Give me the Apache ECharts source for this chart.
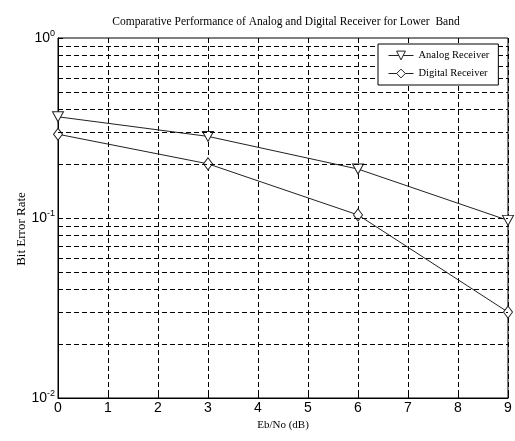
<!DOCTYPE html>
<html>
<head>
<meta charset="utf-8">
<script src="https://cdn.jsdelivr.net/npm/echarts@6/dist/echarts.min.js"></script>
<style>html,body{margin:0;padding:0;background:#fff;}#c{width:515px;height:441px;}</style>
</head>
<body>
<div id="c"></div>
<script>
var ebno = [0, 3, 6, 9];
var analog = [0.365, 0.284, 0.187, 0.097];
var digital = [0.292, 0.200, 0.104, 0.030];
var xTicks = [0, 1, 2, 3, 4, 5, 6, 7, 8, 9];
var yGridValues = [0.02, 0.03, 0.04, 0.05, 0.06, 0.07, 0.08, 0.09, 0.1, 0.2, 0.3, 0.4, 0.5, 0.6, 0.7, 0.8, 0.9];
var yMajor = {1: '0', 0.1: '-1', 0.01: '-2'};

var chart = echarts.init(document.getElementById('c'));
var serif = 'Liberation Serif';
var sans = 'Liberation Sans';
function pairs(xs, ys) { return xs.map(function (x, i) { return [x, ys[i]]; }); }
var markerStyle = { color: '#fff', borderColor: '#222', borderWidth: 1 };
var thinLine = { color: '#222', width: 1 };

chart.setOption({
  animation: false,
  backgroundColor: '#fff',
  title: {
    text: 'Comparative Performance of Analog and Digital Receiver for Lower  Band',
    left: 281, top: 11, textAlign: 'center',
    textStyle: { fontFamily: serif, fontSize: 11.5, fontWeight: 'normal', color: '#000' }
  },
  legend: {
    orient: 'vertical', left: 378, top: 44, z: 20,
    backgroundColor: '#fff', borderColor: '#000', borderWidth: 1,
    padding: [6, 9, 6, 10], itemGap: 7, itemWidth: 25, itemHeight: 11,
    textStyle: { fontFamily: serif, fontSize: 10.5, color: '#000' },
    lineStyle: thinLine,
    data: [
      { name: 'Analog Receiver', itemStyle: markerStyle, lineStyle: thinLine },
      { name: 'Digital Receiver', itemStyle: markerStyle, lineStyle: thinLine }
    ]
  },
  grid: { left: 58, right: 7, top: 38, bottom: 43, show: true, borderColor: '#000', borderWidth: 1, backgroundColor: 'transparent' },
  xAxis: {
    type: 'value', min: 0, max: 9, interval: 1,
    name: 'Eb/No (dB)', nameLocation: 'middle', nameGap: 22,
    nameTextStyle: { fontFamily: serif, fontSize: 11, color: '#000' },
    axisLine: { lineStyle: { color: '#000' } },
    axisTick: { inside: true, length: 5, lineStyle: { color: '#000' } },
    axisLabel: { fontFamily: sans, fontSize: 14, color: '#000', margin: 3,
      formatter: function (v) { return xTicks.indexOf(v) >= 0 ? String(v) : ''; } },
    splitLine: { show: true, lineStyle: { color: '#000', type: [5, 3], width: 1 } }
  },
  yAxis: {
    type: 'log', logBase: 10, min: 0.01, max: 1,
    name: 'Bit Error Rate', nameLocation: 'middle', nameGap: 30, nameRotate: 90,
    nameMoveOverlap: false,
    nameTextStyle: { fontFamily: serif, fontSize: 13, color: '#000', padding: [0, 22, 0, 0] },
    axisLine: { show: true, lineStyle: { color: '#000' } },
    axisTick: { show: true, inside: true, length: 5, lineStyle: { color: '#000' } },
    splitLine: { show: false },
    axisLabel: {
      margin: 3, color: '#000',
      formatter: function (v) {
        var k = Math.abs(v - 1) < 1e-9 ? 1 : (Math.abs(v - 0.1) < 1e-9 ? 0.1 : (Math.abs(v - 0.01) < 1e-9 ? 0.01 : null));
        if (k === null) return '';
        return '{b|10}{s|' + yMajor[k] + '}';
      },
      rich: {
        b: { fontFamily: sans, fontSize: 14, color: '#000' },
        s: { fontFamily: sans, fontSize: 9, color: '#000', padding: [0, 0, 9, 0] }
      }
    }
  },
  series: [
    {
      name: 'Analog Receiver', type: 'line', data: pairs(ebno, analog),
      symbol: 'triangle', symbolRotate: 180, symbolSize: [11, 10],
      lineStyle: thinLine,
      itemStyle: markerStyle,
      markLine: {
        silent: true, symbol: 'none', animation: false,
        label: { show: false },
        lineStyle: { color: '#000', type: [5, 3], width: 1 },
        data: yGridValues.map(function (v) { return { yAxis: v }; })
      }
    },
    {
      name: 'Digital Receiver', type: 'line', data: pairs(ebno, digital),
      symbol: 'diamond', symbolSize: [9, 12],
      lineStyle: thinLine,
      itemStyle: markerStyle
    }
  ]
});
</script>
</body>
</html>
